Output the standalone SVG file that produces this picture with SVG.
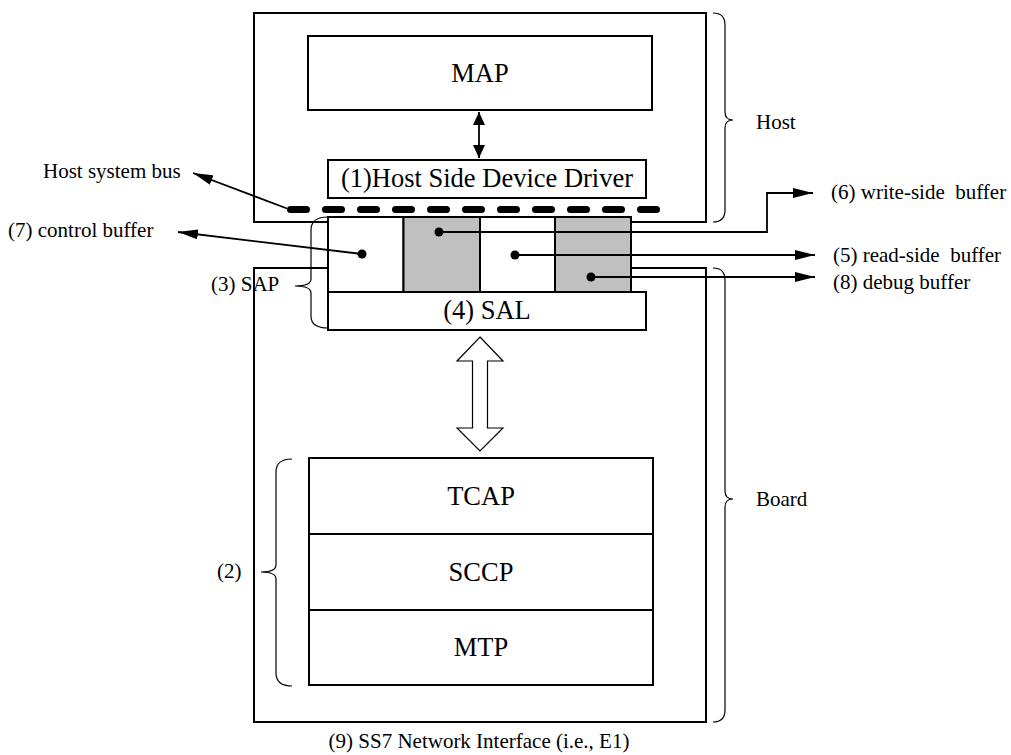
<svg xmlns="http://www.w3.org/2000/svg" width="1011" height="755" viewBox="0 0 1011 755">
  <style>
    .box { fill: #ffffff; stroke: #000000; stroke-width: 2; }
    .shade { fill: #c0c0c0; stroke: #000000; stroke-width: 2; }
    .big { font-family: "Liberation Serif", "Times New Roman", serif; font-size: 26.5px; fill: #000000; }
    .small { font-family: "Liberation Serif", "Times New Roman", serif; font-size: 21px; fill: #000000; white-space: pre; }
    .brace { fill: none; stroke: #000000; stroke-width: 1.2; }
    .wire { fill: none; stroke: #000000; stroke-width: 1.8; }
    .dot { fill: #000000; }
  </style>
  <defs>
    <marker id="arr" viewBox="0 0 20 10" refX="20" refY="5" markerWidth="20" markerHeight="10" markerUnits="userSpaceOnUse" orient="auto">
      <path d="M0,0 L20,5 L0,10 z" fill="#000000"/>
    </marker>
    <marker id="arrS" viewBox="0 0 13 12" refX="13" refY="6" markerWidth="13" markerHeight="12" markerUnits="userSpaceOnUse" orient="auto-start-reverse">
      <path d="M0,0 L13,6 L0,12 z" fill="#000000"/>
    </marker>
  </defs>
  <rect width="1011" height="755" fill="#ffffff"/>

  <!-- host enclosure -->
  <g id="host">
    <rect class="box" x="254" y="13" width="452" height="209"/>
  </g>
  <!-- board enclosure -->
  <g id="board">
    <rect class="box" x="254" y="268" width="452" height="454"/>
  </g>

  <g id="map">
    <rect class="box" x="308" y="36" width="344" height="74"/>
    <text class="big" x="480" y="82" text-anchor="middle">MAP</text>
  </g>

  <g id="driver">
    <rect class="box" x="328" y="160" width="318" height="38"/>
    <text class="big" x="487" y="187" text-anchor="middle">(1)Host Side Device Driver</text>
  </g>

  <!-- host system bus -->
  <g id="bus">
    <path d="M290.5,209.5 H657" fill="none" stroke="#000000" stroke-width="7" stroke-linecap="round" stroke-dasharray="16 19"/>
  </g>

  <!-- shared area buffers -->
  <g id="sap">
    <rect class="box" x="328" y="217" width="75.5" height="75"/>
    <rect class="shade" x="403.5" y="217" width="76.5" height="75"/>
    <rect class="box" x="480" y="217" width="75" height="75"/>
    <rect class="shade" x="555" y="217" width="76" height="75"/>
  </g>

  <g id="sal">
    <rect class="box" x="328" y="292" width="318" height="38"/>
    <text class="big" x="487" y="319" text-anchor="middle">(4) SAL</text>
  </g>

  <g id="stack">
    <rect class="box" x="309" y="458" width="344" height="76"/>
    <text class="big" x="481" y="505" text-anchor="middle">TCAP</text>
    <rect class="box" x="309" y="534" width="344" height="76"/>
    <text class="big" x="481" y="581" text-anchor="middle">SCCP</text>
    <rect class="box" x="309" y="610" width="344" height="75"/>
    <text class="big" x="481" y="656" text-anchor="middle">MTP</text>
  </g>

  <!-- braces -->
  <g id="braces">
    <path class="brace" d="M713,13 Q725,13 725,25 L725,112 Q725,120 733,120 Q725,120 725,128 L725,210 Q725,222 713,222"/>
    <path class="brace" d="M713,268 Q725,268 725,280 L725,491 Q725,499 733,499 Q725,499 725,507 L725,710 Q725,722 713,722"/>
    <path class="brace" d="M328,217 Q311,217 311,230 L311,279 Q311,286 295,286 Q311,286 311,293 L311,316 Q311,328 328,328"/>
    <path class="brace" d="M292,459 Q276,459 276,472 L276,565 Q276,572 261,572 Q276,572 276,579 L276,673 Q276,686 292,686"/>
  </g>

  <!-- connectors -->
  <g id="connectors">
    <path class="wire" d="M479,112 V158" marker-start="url(#arrS)" marker-end="url(#arrS)"/>
    <path class="wire" d="M287,208.5 L193,173" marker-end="url(#arr)"/>
    <path class="wire" d="M362,254 L178,232" marker-end="url(#arr)"/>
    <path class="wire" d="M439,232 H767 V193 H813" marker-end="url(#arr)"/>
    <path class="wire" d="M515,255 H815" marker-end="url(#arr)"/>
    <path class="wire" d="M591,277 H815" marker-end="url(#arr)"/>
    <polygon points="480,337 503,361 487.5,361 487.5,428 503,428 480,451 457,428 472.5,428 472.5,361 457,361" fill="#ffffff" stroke="#000000" stroke-width="1.2"/>
    <circle class="dot" cx="362" cy="254" r="4.5"/>
    <circle class="dot" cx="439" cy="232" r="4.5"/>
    <circle class="dot" cx="515" cy="255" r="4.5"/>
    <circle class="dot" cx="591" cy="277" r="4.5"/>
  </g>

  <!-- labels -->
  <g id="labels">
    <text class="small" x="43" y="178">Host system bus</text>
    <text class="small" x="8" y="237">(7) control buffer</text>
    <text class="small" x="211" y="291">(3) SAP</text>
    <text class="small" x="831" y="199" xml:space="preserve">(6) write-side  buffer</text>
    <text class="small" x="833" y="262" xml:space="preserve">(5) read-side  buffer</text>
    <text class="small" x="833" y="289">(8) debug buffer</text>
    <text class="small" x="756" y="129">Host</text>
    <text class="small" x="756" y="506">Board</text>
    <text class="small" x="217" y="578">(2)</text>
    <text class="small" x="479" y="748" text-anchor="middle">(9) SS7 Network Interface (i.e., E1)</text>
  </g>
</svg>
